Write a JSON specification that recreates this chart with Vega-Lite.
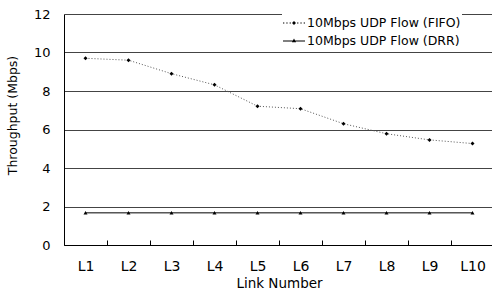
{
  "$schema": "https://vega.github.io/schema/vega-lite/v6.json",
  "width": 430,
  "height": 231,
  "autosize": "none",
  "padding": {"left": 64, "top": 14, "right": 0, "bottom": 46},
  "background": "white",
  "config": {
    "font": "DejaVu Sans",
    "view": {"stroke": null},
    "axis": {"labelColor": "black", "titleColor": "black", "labelFont": "DejaVu Sans", "titleFont": "DejaVu Sans", "titleFontWeight": "normal"},
    "legend": {
      "title": null, "orient": "none", "legendX": 218, "legendY": -1,
      "fillColor": "white", "padding": 1, "symbolSize": 484, "labelFontSize": 12.5,
      "labelColor": "black", "labelFont": "DejaVu Sans", "labelOffset": 2, "rowPadding": 0,
      "clipHeight": 18, "symbolFillColor": "black", "symbolStrokeColor": "black",
      "symbolStrokeWidth": 0, "symbolOpacity": 1
    }
  },
  "data": {
    "values": [
      {"link": "L1", "series": "10Mbps UDP Flow (FIFO)", "v": 9.7},
      {"link": "L2", "series": "10Mbps UDP Flow (FIFO)", "v": 9.6},
      {"link": "L3", "series": "10Mbps UDP Flow (FIFO)", "v": 8.9},
      {"link": "L4", "series": "10Mbps UDP Flow (FIFO)", "v": 8.32},
      {"link": "L5", "series": "10Mbps UDP Flow (FIFO)", "v": 7.21},
      {"link": "L6", "series": "10Mbps UDP Flow (FIFO)", "v": 7.08},
      {"link": "L7", "series": "10Mbps UDP Flow (FIFO)", "v": 6.3},
      {"link": "L8", "series": "10Mbps UDP Flow (FIFO)", "v": 5.78},
      {"link": "L9", "series": "10Mbps UDP Flow (FIFO)", "v": 5.46},
      {"link": "L10", "series": "10Mbps UDP Flow (FIFO)", "v": 5.27},
      {"link": "L1", "series": "10Mbps UDP Flow (DRR)", "v": 1.67},
      {"link": "L2", "series": "10Mbps UDP Flow (DRR)", "v": 1.67},
      {"link": "L3", "series": "10Mbps UDP Flow (DRR)", "v": 1.67},
      {"link": "L4", "series": "10Mbps UDP Flow (DRR)", "v": 1.67},
      {"link": "L5", "series": "10Mbps UDP Flow (DRR)", "v": 1.67},
      {"link": "L6", "series": "10Mbps UDP Flow (DRR)", "v": 1.67},
      {"link": "L7", "series": "10Mbps UDP Flow (DRR)", "v": 1.67},
      {"link": "L8", "series": "10Mbps UDP Flow (DRR)", "v": 1.67},
      {"link": "L9", "series": "10Mbps UDP Flow (DRR)", "v": 1.67},
      {"link": "L10", "series": "10Mbps UDP Flow (DRR)", "v": 1.67}
    ]
  },
  "encoding": {
    "x": {
      "field": "link", "type": "nominal", "sort": null,
      "scale": {"type": "band", "paddingInner": 0, "paddingOuter": 0},
      "axis": {
        "title": "Link Number", "labelAngle": 0, "labelFontSize": 14, "titleFontSize": 13.5,
        "tickBand": "extent", "tickSize": -5, "tickColor": "black", "domainColor": "black",
        "labelPadding": 19, "titlePadding": 3, "grid": false
      }
    },
    "y": {
      "field": "v", "type": "quantitative",
      "scale": {"domain": [0, 12], "nice": false},
      "axis": {
        "title": "Throughput (Mbps)", "values": [0, 2, 4, 6, 8, 10, 12], "ticks": false,
        "labelFontSize": 13, "labelPadding": 14, "titleFontSize": 12.5,
        "domainColor": "black", "gridColor": "#444", "gridOpacity": 1,
        "titleY": 101, "titleX": -45
      }
    }
  },
  "layer": [
    {
      "transform": [{"filter": "datum.series == '10Mbps UDP Flow (FIFO)'"}],
      "mark": {"type": "line", "strokeWidth": 1, "color": "#555", "strokeDash": [1, 2]}
    },
    {
      "transform": [{"filter": "datum.series == '10Mbps UDP Flow (DRR)'"}],
      "mark": {"type": "line", "strokeWidth": 1, "color": "black"}
    },
    {
      "mark": {"type": "point", "filled": true, "size": 16, "color": "black", "opacity": 1},
      "encoding": {
        "shape": {"field": "series", "type": "nominal", "legend": null,
          "scale": {"domain": ["10Mbps UDP Flow (FIFO)", "10Mbps UDP Flow (DRR)"], "range": ["diamond", "triangle-up"]}}
      }
    },
    {
      "mark": {"type": "point", "filled": true, "fill": "black", "opacity": 0, "size": 1},
      "encoding": {
        "shape": {"field": "series", "type": "nominal",
          "scale": {"domain": ["10Mbps UDP Flow (FIFO)", "10Mbps UDP Flow (DRR)"],
            "range": [
              "M-1,-0.05h0.12v0.1h-0.12ZM-0.7,-0.05h0.12v0.1h-0.12ZM-0.4,-0.05h0.12v0.1h-0.12ZM0.28,-0.05h0.12v0.1h-0.12ZM0.58,-0.05h0.12v0.1h-0.12ZM0.88,-0.05h0.12v0.1h-0.12ZM0,-0.18L0.18,0L0,0.18L-0.18,0Z",
              "M-1,-0.05H1V0.05H-1ZM0,-0.22L0.19,0.12H-0.19Z"
            ]}}
      }
    }
  ],
  "resolve": {"scale": {"shape": "independent"}}
}
